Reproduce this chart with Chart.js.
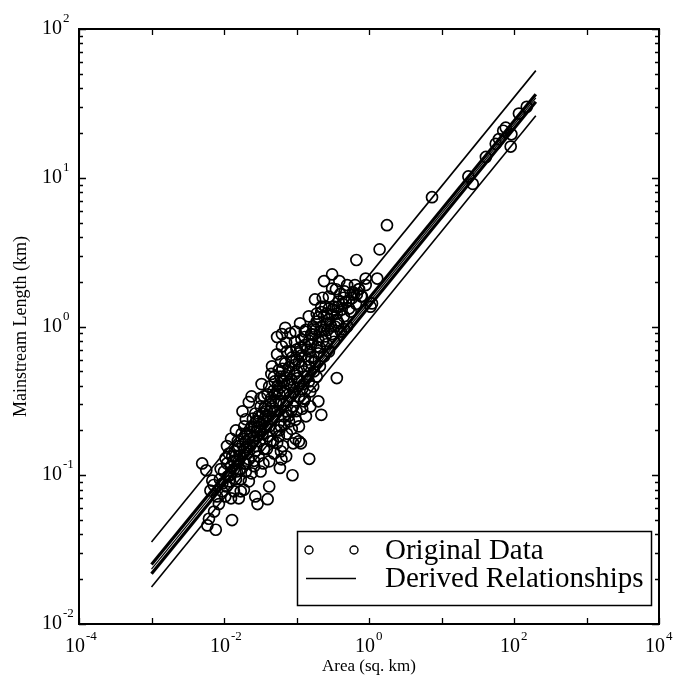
<!DOCTYPE html>
<html>
<head>
<meta charset="utf-8">
<script src="https://cdn.jsdelivr.net/npm/chart.js@4.4.0/dist/chart.umd.min.js"></script>
<style>
  html, body { margin: 0; padding: 0; background: #fff; }
  #wrap { width: 676px; height: 681px; }
</style>
</head>
<body>
<div id="wrap"><canvas id="chart" width="676" height="681"></canvas></div>
<script>
/* ===============================
   DATA
   =============================== */
const areaKm2 = [
  0.0050, 0.0057, 0.0069, 0.0059, 0.0077, 0.0062, 0.0129, 0.0125, 0.016, 0.027,
  0.029, 0.040, 0.042, 0.0073, 0.0085, 0.0080, 0.0094, 0.0108, 0.0088, 0.010,
  0.0117, 0.0137, 0.011, 0.013, 0.015, 0.017, 0.0188, 0.020, 0.0125, 0.0146,
  0.016, 0.0188, 0.020, 0.022, 0.024, 0.022, 0.020, 0.024, 0.026, 0.028,
  0.026, 0.030, 0.032, 0.0356, 0.033, 0.0356, 0.032, 0.038, 0.030, 0.042,
  0.040, 0.044, 0.049, 0.042, 0.054, 0.059, 0.062, 0.061, 0.090, 0.108,
  0.115, 0.088, 0.150, 0.054, 0.072, 0.054, 0.061, 0.046, 0.049, 0.042,
  0.054, 0.067, 0.057, 0.049, 0.067, 0.061, 0.074, 0.079, 0.086, 0.097,
  0.097, 0.126, 0.12, 0.135, 0.108, 0.092, 0.079, 0.083, 0.100, 0.108,
  0.126, 0.148, 0.155, 0.174, 0.130, 0.160, 0.200, 0.097, 0.112, 0.130,
  0.174, 0.19, 0.22, 0.28, 0.30, 0.20, 0.22, 0.36, 0.24, 0.28,
  0.21, 0.26, 0.33, 0.19, 0.22, 0.18, 0.23, 0.28, 0.33, 0.36,
  0.42, 0.53, 0.62, 0.73, 0.90, 0.66, 0.80, 1.1, 0.53, 0.64,
  0.72, 0.58, 0.78, 1.05, 0.38, 0.45, 0.41, 0.5,
  0.31, 0.24, 0.39, 0.31, 0.9, 1.3, 0.67, 1.4, 1.77, 7.4,
  23.5, 27, 71, 77, 92, 90, 150, 41, 56, 62, 117,
  0.011, 0.0137, 0.016, 0.0175, 0.019, 0.0117, 0.0146, 0.0104, 0.017, 0.022,
  0.024, 0.027, 0.028, 0.031, 0.035, 0.023, 0.019, 0.018, 0.027, 0.032,
  0.037, 0.040, 0.044, 0.047, 0.052, 0.057, 0.065, 0.072, 0.050, 0.045,
  0.057, 0.065, 0.074, 0.072, 0.083, 0.090, 0.100, 0.108, 0.074, 0.07,
  0.074, 0.063, 0.088, 0.095, 0.108, 0.12, 0.117, 0.130, 0.148, 0.155,
  0.18, 0.19, 0.17, 0.13, 0.155, 0.117, 0.135, 0.16, 0.148, 0.19,
  0.21, 0.25, 0.24, 0.26, 0.31, 0.34, 0.36, 0.28, 0.25, 0.38,
  0.45, 0.46, 0.40, 0.35, 0.50, 0.56, 0.45, 0.108, 0.095, 0.082,
  0.07, 0.063, 0.0065, 0.0072, 0.009, 0.0105, 0.012, 0.014, 0.0155, 0.0165,
  0.021, 0.021, 0.025, 0.029, 0.034, 0.036, 0.039, 0.046, 0.050, 0.055,
  0.060, 0.064, 0.085, 0.092, 0.102, 0.14, 0.16, 0.20, 0.23, 0.27, 0.31,
  0.0095, 0.0112, 0.0125, 0.0135, 0.0145, 0.0155, 0.0165, 0.018, 0.019, 0.0205,
  0.022, 0.023, 0.025, 0.026, 0.028, 0.030, 0.031, 0.033, 0.034, 0.036,
  0.038, 0.041, 0.043, 0.045, 0.048, 0.052, 0.055, 0.058, 0.060, 0.063,
  0.066, 0.069, 0.072, 0.078, 0.081, 0.087, 0.094, 0.100, 0.105, 0.112,
  0.118, 0.125, 0.130, 0.140, 0.145, 0.150, 0.165, 0.170, 0.185, 0.200,
  0.21, 0.22, 0.24, 0.26, 0.29, 0.32, 0.37, 0.43, 0.48, 0.60,
  0.68, 0.085, 0.078, 0.068, 0.058, 0.047, 0.039, 0.026, 0.020
];
const lengthKm = [
  0.120, 0.108, 0.092, 0.046, 0.043, 0.051, 0.050, 0.070, 0.070, 0.072,
  0.064, 0.069, 0.084, 0.057, 0.064, 0.072, 0.078, 0.084, 0.094, 0.106,
  0.091, 0.078, 0.12, 0.134, 0.106, 0.094, 0.080, 0.106, 0.176, 0.20,
  0.157, 0.145, 0.169, 0.128, 0.339, 0.31, 0.238, 0.213, 0.183, 0.157,
  0.115, 0.134, 0.106, 0.150, 0.41, 0.339, 0.29, 0.249, 0.23, 0.213,
  0.183, 0.169, 0.14, 0.124, 0.165, 0.112, 0.128, 0.145, 0.164, 0.169,
  0.164, 0.100, 0.129, 0.85, 0.78, 0.65, 0.58, 0.54, 0.46, 0.395,
  0.366, 0.427, 0.314, 0.269, 0.249, 0.213, 0.19, 0.23, 0.205, 0.176,
  0.236, 0.314, 0.28, 0.249, 0.339, 0.395, 0.50, 0.68, 0.70, 0.58,
  0.50, 0.427, 0.366, 0.50, 0.75, 0.76, 0.81, 0.925, 1.05, 0.925,
  0.97, 1.08, 1.0, 1.12, 1.0, 0.314, 0.255, 0.45, 0.63, 0.68,
  0.54, 0.76, 0.79, 1.22, 1.36, 1.52, 1.56, 1.32, 1.36, 1.22,
  1.30, 1.50, 1.64, 1.78, 1.9, 1.42, 1.59, 1.43, 1.32, 1.9,
  1.78, 1.55, 1.6, 1.36, 1.05, 1.17, 0.925, 1.0,
  2.24, 2.02, 2.02, 1.8, 2.1, 2.1, 2.8, 3.3, 4.8, 7.4,
  10.2, 9.1, 20.7, 21.7, 19.6, 16.2, 30, 13.8, 16.9, 18.2, 27,
  0.157, 0.11, 0.124, 0.19, 0.12, 0.14, 0.094, 0.072, 0.078, 0.091,
  0.103, 0.145, 0.197, 0.169, 0.12, 0.157, 0.213, 0.269, 0.26, 0.33,
  0.29, 0.35, 0.314, 0.24, 0.2, 0.183, 0.157, 0.134, 0.427, 0.48,
  0.51, 0.356, 0.314, 0.269, 0.339, 0.29, 0.27, 0.213, 0.415, 0.565,
  0.68, 0.734, 0.58, 0.48, 0.427, 0.38, 0.54, 0.63, 0.54, 0.68,
  0.58, 0.46, 0.395, 0.326, 0.29, 0.82, 0.95, 0.89, 1.17, 0.734,
  0.925, 0.857, 1.17, 1.05, 0.89, 1.0, 1.1, 1.59, 1.36, 1.47,
  1.56, 1.72, 1.65, 1.78, 1.9, 1.26, 0.96, 0.66, 0.79, 0.9,
  0.98, 0.89, 0.079, 0.086, 0.11, 0.13, 0.10, 0.145, 0.17, 0.11,
  0.14, 0.19, 0.24, 0.21, 0.19, 0.23, 0.27, 0.29, 0.35, 0.40,
  0.46, 0.52, 0.44, 0.36, 0.50, 0.46, 0.62, 0.66, 0.80, 0.95, 1.2,
  0.088, 0.098, 0.115, 0.125, 0.135, 0.150, 0.135, 0.160, 0.175, 0.155,
  0.175, 0.195, 0.170, 0.210, 0.230, 0.250, 0.200, 0.220, 0.260, 0.280,
  0.210, 0.250, 0.270, 0.330, 0.370, 0.310, 0.270, 0.350, 0.390, 0.430,
  0.300, 0.370, 0.470, 0.530, 0.410, 0.620, 0.550, 0.600, 0.450, 0.720,
  0.640, 0.410, 0.850, 0.700, 0.600, 0.800, 0.880, 1.000, 0.950, 1.150,
  0.72, 1.25, 0.95, 1.22, 1.05, 1.30, 1.35, 1.42, 1.45, 1.70,
  1.65, 0.27, 0.25, 0.22, 0.20, 0.17, 0.15, 0.125, 0.12
];

// derived relationships: end points of each fitted line
const fitAreas = [0.001, 200];
const upperLine = [0.0356, 52.5];
const bundleA = [0.0251, 36.4];
const bundleB = [0.0234, 34.4];
const bundleC = [0.0218, 32.4];
const lowerLine = [0.0177, 26.1];

// axis ticks
const xTickValues = [1e-4, 1e-3, 1e-2, 1e-1, 1, 10, 100, 1e3, 1e4];
const xLabelExps = [-4, -2, 0, 2, 4];
const yDecades = [0.01, 0.1, 1, 10, 100];
const yLabelExps = [-2, -1, 0, 1, 2];
const yMinorMult = [2, 3, 4, 5, 6, 7, 8, 9];

const SERIF = '"Liberation Serif", "DejaVu Serif", serif';

/* ===============================
   AXES + LEGEND PLUGIN
   =============================== */
function drawPow(ctx, x, y, exp, big, small, raise) {
  ctx.font = big + "px " + SERIF;
  ctx.textAlign = "left";
  ctx.textBaseline = "alphabetic";
  ctx.fillText("10", x, y);
  const w = ctx.measureText("10").width;
  ctx.font = small + "px " + SERIF;
  ctx.fillText(String(exp), x + w + 1, y - raise);
}

const axesPlugin = {
  id: "axesPlugin",
  afterDatasetsDraw(chart) {
    const { ctx, chartArea: a } = chart;
    const xs = chart.scales.x;
    const ys = chart.scales.y;
    ctx.save();
    ctx.strokeStyle = "#000";
    ctx.fillStyle = "#000";

    // frame
    ctx.lineWidth = 2;
    ctx.strokeRect(a.left, a.top, a.right - a.left, a.bottom - a.top);

    // x ticks (bottom + top, inward)
    ctx.lineWidth = 1.3;
    ctx.beginPath();
    xTickValues.forEach(v => {
      const px = Math.round(xs.getPixelForValue(v)) + 0.5;
      ctx.moveTo(px, a.bottom); ctx.lineTo(px, a.bottom - 6);
      ctx.moveTo(px, a.top); ctx.lineTo(px, a.top + 6);
    });
    // y ticks major + minor (left + right, inward)
    yDecades.forEach((d, i) => {
      const py = Math.round(ys.getPixelForValue(d)) + 0.5;
      ctx.moveTo(a.left, py); ctx.lineTo(a.left + 7, py);
      ctx.moveTo(a.right, py); ctx.lineTo(a.right - 7, py);
      if (i < yDecades.length - 1) {
        yMinorMult.forEach(m => {
          const pm = Math.round(ys.getPixelForValue(d * m)) + 0.5;
          ctx.moveTo(a.left, pm); ctx.lineTo(a.left + 4, pm);
          ctx.moveTo(a.right, pm); ctx.lineTo(a.right - 4, pm);
        });
      }
    });
    ctx.stroke();

    // tick labels
    xLabelExps.forEach(e => {
      const px = xs.getPixelForValue(Math.pow(10, e));
      drawPow(ctx, px - 14, a.bottom + 28, e, 20, 13, 12);
    });
    yLabelExps.forEach(e => {
      const py = ys.getPixelForValue(Math.pow(10, e));
      drawPow(ctx, 42, py + 5, e, 20, 13, 12);
    });

    // axis titles
    ctx.font = "17px " + SERIF;
    ctx.textAlign = "center";
    ctx.textBaseline = "alphabetic";
    ctx.fillText("Area (sq. km)", (a.left + a.right) / 2, 671);
    ctx.save();
    ctx.translate(26, (a.top + a.bottom) / 2);
    ctx.rotate(-Math.PI / 2);
    ctx.font = "18px " + SERIF;
    ctx.fillText("Mainstream Length (km)", 0, 0);
    ctx.restore();

    // legend
    ctx.fillStyle = "#fff";
    ctx.fillRect(297, 531, 354, 74);
    ctx.fillStyle = "#000";
    ctx.lineWidth = 1.5;
    ctx.strokeRect(297.5, 531.5, 354, 74);
    ctx.lineWidth = 1.4;
    [309, 354].forEach(cx => {
      ctx.beginPath();
      ctx.arc(cx, 550, 4, 0, Math.PI * 2);
      ctx.stroke();
    });
    ctx.beginPath();
    ctx.moveTo(306, 578.5); ctx.lineTo(356, 578.5);
    ctx.stroke();
    ctx.font = "29px " + SERIF;
    ctx.textAlign = "left";
    ctx.textBaseline = "middle";
    ctx.fillText("Original Data", 385, 551);
    ctx.fillText("Derived Relationships", 385, 579);

    ctx.restore();
  }
};

/* ===============================
   CHART
   =============================== */
function lineSet(vals, width) {
  return {
    type: "line",
    data: fitAreas.map((x, i) => ({ x, y: vals[i] })),
    borderColor: "#000",
    borderWidth: width,
    pointRadius: 0,
    fill: false,
    showLine: true
  };
}

new Chart(document.getElementById("chart"), {
  type: "scatter",
  data: {
    datasets: [
      lineSet(upperLine, 1.6),
      lineSet(bundleA, 3.2),
      lineSet(bundleB, 1.2),
      lineSet(bundleC, 3.2),
      lineSet(lowerLine, 1.6),
      {
        label: "Original Data",
        data: areaKm2.map((x, i) => ({ x, y: lengthKm[i] })),
        pointStyle: "circle",
        pointRadius: 5.5,
        pointBorderWidth: 1.7,
        borderColor: "#000",
        backgroundColor: "rgba(0,0,0,0)"
      }
    ]
  },
  options: {
    responsive: false,
    devicePixelRatio: 1,
    animation: false,
    layout: { padding: { left: 79, right: 17, top: 29, bottom: 57 } },
    plugins: { legend: { display: false }, tooltip: { enabled: false } },
    scales: {
      x: { type: "logarithmic", min: 1e-4, max: 1e4, display: false },
      y: { type: "logarithmic", min: 0.01, max: 100, display: false }
    }
  },
  plugins: [axesPlugin]
});
</script>
</body>
</html>
